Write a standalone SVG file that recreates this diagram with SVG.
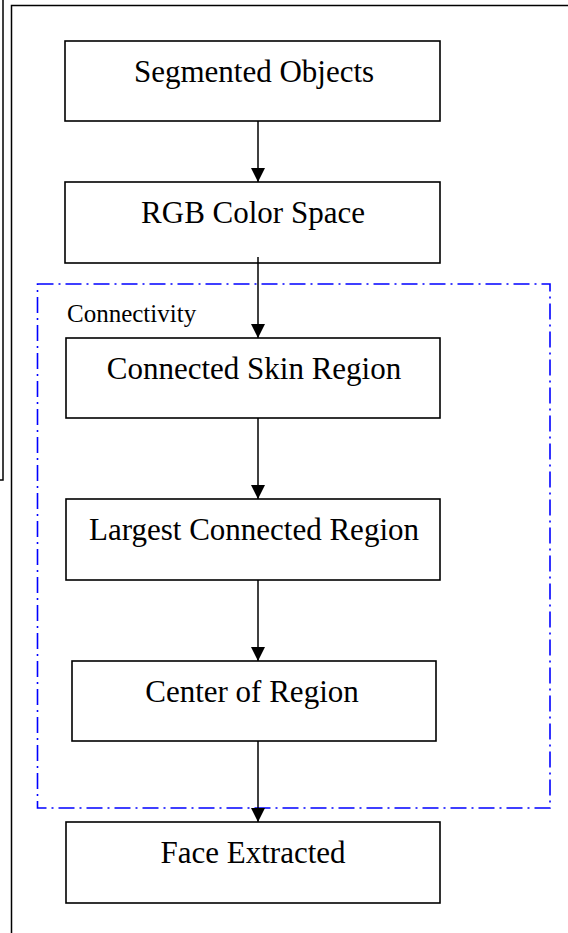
<svg xmlns="http://www.w3.org/2000/svg" width="568" height="933" viewBox="0 0 568 933">
<style>
.frame{fill:none;stroke:#000;stroke-width:1.5}
.box{fill:#fff;stroke:#000;stroke-width:1.6}
.lbl{font-family:"Liberation Serif","Times New Roman",serif;font-size:31px;fill:#000;text-anchor:middle}
.small{font-family:"Liberation Serif","Times New Roman",serif;font-size:25px;fill:#000}
.conn{stroke:#000;stroke-width:1.5;fill:none}
.grp{fill:none;stroke:#0000ff;stroke-width:1.6;stroke-dasharray:16 5 2 5}
</style>
<defs>
<marker id="ah" viewBox="0 0 14 14" refX="14" refY="7" markerWidth="14" markerHeight="14" markerUnits="userSpaceOnUse" orient="auto">
<path d="M0,0 L14,7 L0,14 Z" fill="#000"/>
</marker>
</defs>
<rect fill="#fff" x="0" y="0" width="568" height="933"/>
<rect class="frame" x="-10" y="-10" width="13" height="490"/>
<rect class="frame" x="11.5" y="5.5" width="570" height="940"/>
<g id="group-connectivity">
<rect class="grp" x="37.5" y="284" width="512.5" height="524"/>
<text class="small" x="67" y="322">Connectivity</text>
</g>
<g id="n1"><rect class="box" x="65" y="41" width="375" height="80"/><text class="lbl" x="254" y="82">Segmented Objects</text></g>
<g id="n2"><rect class="box" x="65" y="182" width="375" height="81"/><text class="lbl" x="253" y="223">RGB Color Space</text></g>
<g id="n3"><rect class="box" x="66" y="338" width="374" height="80"/><text class="lbl" x="254" y="379">Connected Skin Region</text></g>
<g id="n4"><rect class="box" x="66" y="499" width="374" height="81"/><text class="lbl" x="254" y="540">Largest Connected Region</text></g>
<g id="n5"><rect class="box" x="72" y="661" width="364" height="80"/><text class="lbl" x="252" y="702">Center of Region</text></g>
<g id="n6"><rect class="box" x="66" y="822" width="374" height="81"/><text class="lbl" x="253" y="863">Face Extracted</text></g>
<g id="connectors">
<line class="conn" x1="258" y1="121" x2="258" y2="182" marker-end="url(#ah)"/>
<line class="conn" x1="258" y1="257" x2="258" y2="338" marker-end="url(#ah)"/>
<line class="conn" x1="258" y1="418" x2="258" y2="499" marker-end="url(#ah)"/>
<line class="conn" x1="258" y1="580" x2="258" y2="661" marker-end="url(#ah)"/>
<line class="conn" x1="258" y1="741" x2="258" y2="822" marker-end="url(#ah)"/>
</g>
</svg>
